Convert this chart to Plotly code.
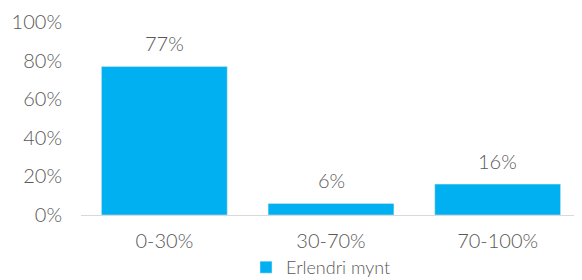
import plotly.graph_objects as go

categories = ["0-30%", "30-70%", "70-100%"]
values = [77, 6, 16]
series_name = "Erlendri mynt"
tick_vals = [0, 20, 40, 60, 80, 100]
tick_text = ["0%", "20%", "40%", "60%", "80%", "100%"]

font = dict(family="Lato", size=20, color="#595959", weight=300)

fig = go.Figure()
fig.add_trace(go.Bar(
    x=categories, y=values, name=series_name,
    marker=dict(color="#00B0F0"),
    showlegend=True,
))
for c, v in zip(categories, values):
    fig.add_annotation(x=c, y=v, text=f"{v}%", showarrow=False,
                       yanchor="bottom", yshift=9, font=font)
fig.update_layout(
    width=574, height=278,
    margin=dict(l=73, r=1, t=14, b=71, autoexpand=False),
    paper_bgcolor="white", plot_bgcolor="white",
    bargap=0.245,
    font=font,
    showlegend=True,
    legend=dict(orientation="h", x=0.48, xanchor="center", yref="container",
                y=0, yanchor="bottom", bgcolor="rgba(0,0,0,0)",
                font=dict(family="Lato", size=18, color="#595959", weight=300),
                itemwidth=30, tracegroupgap=0),
    xaxis=dict(showline=True, linecolor="#D9D9D9", linewidth=1, ticks="",
               tickfont=font, showgrid=False, ticklabelstandoff=8),
    yaxis=dict(range=[0, 100], tickvals=tick_vals, ticktext=tick_text,
               showgrid=False, zeroline=False, ticks="", ticklabelstandoff=18,
               tickfont=font),
)
fig.write_html("out.html")
